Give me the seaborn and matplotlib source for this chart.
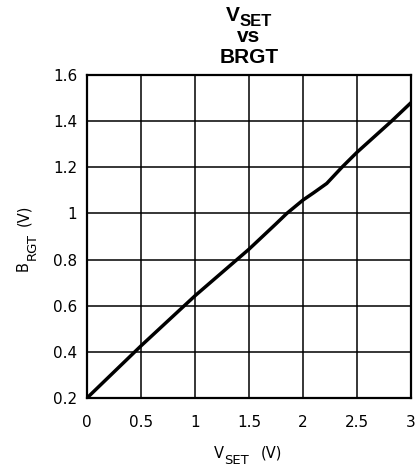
import matplotlib
matplotlib.use("Agg")
import matplotlib.pyplot as plt
import seaborn as sns
import pandas as pd
from matplotlib.ticker import FuncFormatter
from matplotlib.transforms import IdentityTransform

vset = [0.0, 0.5, 1.0, 1.5, 1.75, 1.85, 2.0, 2.1, 2.22, 2.36, 2.5, 2.82, 3.0]
brgt = [0.2, 0.426, 0.643, 0.845, 0.955, 1.0, 1.058, 1.09, 1.13, 1.2, 1.265, 1.4, 1.48]
x_ticks = [0, 0.5, 1, 1.5, 2, 2.5, 3]
y_ticks = [0.2, 0.4, 0.6, 0.8, 1.0, 1.2, 1.4, 1.6]

sns.set_style("white")
plt.rcParams['font.family'] = ['DejaVu Sans']
plt.rcParams['text.color'] = 'black'

W, H = 420, 470
df = pd.DataFrame({"vset": vset, "brgt": brgt})

fig = plt.figure(figsize=(W / 100, H / 100), dpi=100)
ax = fig.add_axes([87 / W, 1 - 398 / H, (411 - 87) / W, (398 - 75) / H])

sns.lineplot(data=df, x="vset", y="brgt", ax=ax, color="black", linewidth=2.5)

ax.set_xlim(0, 3)
ax.set_ylim(0.2, 1.6)
ax.set_xticks(x_ticks)
ax.set_yticks(y_ticks)
fmt = FuncFormatter(lambda v, p: f"{v:g}")
ax.xaxis.set_major_formatter(fmt)
ax.yaxis.set_major_formatter(fmt)
ax.grid(True, color="black", linewidth=1.1)
for s in ax.spines.values():
    s.set_color("black")
    s.set_linewidth(1.6)
ax.tick_params(axis="both", length=0, labelsize=11, colors="black")
ax.tick_params(axis="x", pad=12)
ax.tick_params(axis="y", pad=7)
ax.set_xlabel("")
ax.set_ylabel("")

renderer = fig.canvas.get_renderer()


def compose(pieces, center, base, rotation=0, family="DejaVu Sans", weight="normal"):
    # pieces: (text, fontsize, drop_px, gap_px) ; positions in pixels from top-left
    widths = []
    for txt, fs, dy, gap in pieces:
        t = fig.text(0, 0, txt, fontsize=fs, family=family, fontweight=weight,
                     transform=IdentityTransform())
        widths.append(t.get_window_extent(renderer).width + gap)
        t.remove()
    total = sum(widths)
    start = center - total / 2
    pos = start
    for (txt, fs, dy, gap), w in zip(pieces, widths):
        if rotation == 0:
            x, y = pos + gap, H - (base + dy)
        else:
            x = base + dy
            y = H - (center + total / 2) + (pos - start) + gap
        fig.text(x, y, txt, fontsize=fs, family=family, fontweight=weight,
                 color="black", transform=IdentityTransform(), ha="left",
                 va="baseline", rotation=rotation, rotation_mode="anchor")
        pos += w


# title
compose([("V", 15, 0, 0), ("SET", 12, 5, 0)], 249, 21, family="Liberation Sans", weight="bold")
compose([("vs", 15, 0, 0)], 249, 42, family="Liberation Sans", weight="bold")
compose([("BRGT", 15, 0, 0)], 249, 63, family="Liberation Sans", weight="bold")

# axis labels
compose([("V", 10.5, 0, 0), ("SET", 9.5, 6, 1), ("(V)", 10.5, 0, 12)], 248, 458)
compose([("B", 10.5, 0, 0), ("RGT", 9.5, 8, 1), ("(V)", 10.5, 0, 7)], 238, 28, rotation=90)

fig.savefig("out.png", dpi=100)
